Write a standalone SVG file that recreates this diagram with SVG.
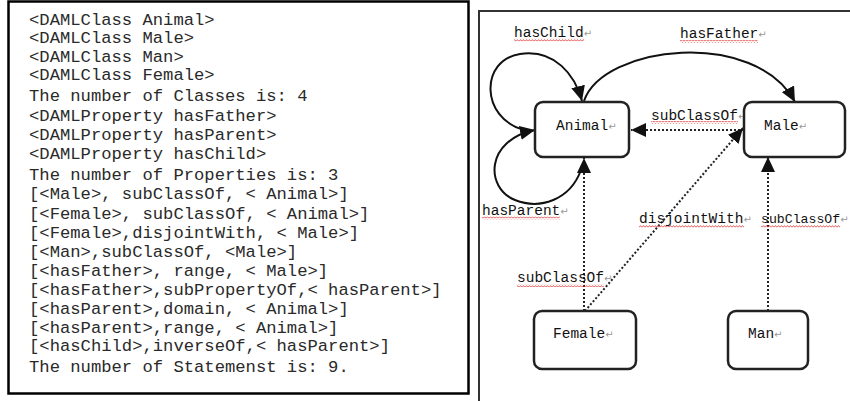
<svg xmlns="http://www.w3.org/2000/svg" width="850" height="401" viewBox="0 0 850 401">
<style>
.code{font-family:"Liberation Mono","DejaVu Sans Mono",monospace;font-size:17.2px;fill:#2a2a2a}
.lbl{font-family:"Liberation Mono","DejaVu Sans Mono",monospace;font-size:14.5px;fill:#111}
.ret{font-family:"DejaVu Sans",sans-serif;font-size:10px;fill:#999}
.node rect{fill:#fff;stroke:#222;stroke-width:2.5}
.solid{fill:none;stroke:#111;stroke-width:2}
.dot{fill:none;stroke:#222;stroke-width:2;stroke-dasharray:2 2}
.wave{fill:url(#wv)}
</style>
<defs>
<marker id="ah" markerUnits="userSpaceOnUse" markerWidth="15" markerHeight="14" refX="15" refY="7" orient="auto">
<path d="M0,0 L15,7 L0,14 z" fill="#111"/>
</marker>
<pattern id="wv" width="3" height="3" patternUnits="userSpaceOnUse">
<path d="M0,2.4 L1.5,0.6 L3,2.4" fill="none" stroke="#e03030" stroke-width="0.8"/>
</pattern>
</defs>
<rect x="8.5" y="1.5" width="460" height="392" fill="#fff" stroke="#000" stroke-width="2.5"/>
<g id="code">
<text class="code" x="29" y="24.5">&lt;DAMLClass Animal&gt;</text>
<text class="code" x="29" y="43">&lt;DAMLClass Male&gt;</text>
<text class="code" x="29" y="61.5">&lt;DAMLClass Man&gt;</text>
<text class="code" x="29" y="80">&lt;DAMLClass Female&gt;</text>
<text class="code" x="29" y="101">The number of Classes is: 4</text>
<text class="code" x="29" y="121">&lt;DAMLProperty hasFather&gt;</text>
<text class="code" x="29" y="140">&lt;DAMLProperty hasParent&gt;</text>
<text class="code" x="29" y="159">&lt;DAMLProperty hasChild&gt;</text>
<text class="code" x="29" y="180">The number of Properties is: 3</text>
<text class="code" x="29" y="199">[&lt;Male&gt;, subClassOf, &lt; Animal&gt;]</text>
<text class="code" x="29" y="219">[&lt;Female&gt;, subClassOf, &lt; Animal&gt;]</text>
<text class="code" x="29" y="238">[&lt;Female&gt;,disjointWith, &lt; Male&gt;]</text>
<text class="code" x="29" y="257">[&lt;Man&gt;,subClassOf, &lt;Male&gt;]</text>
<text class="code" x="29" y="276">[&lt;hasFather&gt;, range, &lt; Male&gt;]</text>
<text class="code" x="29" y="295">[&lt;hasFather&gt;,subPropertyOf,&lt; hasParent&gt;]</text>
<text class="code" x="29" y="314">[&lt;hasParent&gt;,domain, &lt; Animal&gt;]</text>
<text class="code" x="29" y="333">[&lt;hasParent&gt;,range, &lt; Animal&gt;]</text>
<text class="code" x="29" y="351">[&lt;hasChild&gt;,inverseOf,&lt; hasParent&gt;]</text>
<text class="code" x="29" y="372">The number of Statemenst is: 9.</text>
</g>
<path d="M479,401 L479,11 L850,11" fill="none" stroke="#333" stroke-width="2"/>
<g id="connectors">
<path class="solid" d="M524,130 C480,118 480,60 520,54 C555,49 575,75 582,101" marker-end="url(#ah)"/>
<path class="solid" d="M581,170 C570,200 540,210 515,200 C485,188 485,140 535,130" marker-end="url(#ah)"/>
<path class="solid" d="M584,101 C603,45 755,28 795,102" marker-end="url(#ah)"/>
<path class="dot" d="M744,130 L631,130" marker-end="url(#ah)"/>
<path class="dot" d="M585,311 L743,128" marker-end="url(#ah)"/>
<path class="dot" d="M584,311 L584,158" marker-end="url(#ah)"/>
<path class="dot" d="M768,311 L768,157" marker-end="url(#ah)"/>
</g>
<g id="edge-labels">
<rect class="wave" x="514" y="38.5" width="70" height="3"/>
<text class="lbl" x="514" y="36.5">hasChild<tspan class="ret">↵</tspan></text>
<rect class="wave" x="680" y="40" width="78" height="3"/>
<text class="lbl" x="680" y="38">hasFather<tspan class="ret">↵</tspan></text>
<rect class="wave" x="651" y="121" width="87" height="3"/>
<text class="lbl" x="651" y="119.5">subClassOf<tspan class="ret">↵</tspan></text>
<rect class="wave" x="482" y="216.5" width="78" height="3"/>
<text class="lbl" x="482" y="215">hasParent<tspan class="ret">↵</tspan></text>
<rect class="wave" x="639" y="225" width="105" height="3"/>
<text class="lbl" x="639" y="223">disjointWith<tspan class="ret">↵</tspan></text>
<rect class="wave" x="761" y="225" width="79" height="3"/>
<text class="lbl" x="761" y="223" style="font-size:13.2px">subClassOf<tspan class="ret">↵</tspan></text>
<rect class="wave" x="517" y="284" width="87" height="3"/>
<text class="lbl" x="517" y="282">subClassOf<tspan class="ret">↵</tspan></text>
</g>
<g id="node-animal" class="node">
<rect x="535" y="102" width="94" height="55" rx="8"/>
<text class="lbl" x="556" y="130">Animal<tspan class="ret">↵</tspan></text>
</g>
<g id="node-male" class="node">
<rect x="744" y="102" width="101" height="55" rx="8"/>
<text class="lbl" x="764" y="130">Male<tspan class="ret">↵</tspan></text>
</g>
<g id="node-female" class="node">
<rect x="534" y="311" width="102" height="58" rx="8"/>
<text class="lbl" x="553" y="338">Female<tspan class="ret">↵</tspan></text>
</g>
<g id="node-man" class="node">
<rect x="728" y="311" width="80" height="58" rx="8"/>
<text class="lbl" x="748" y="338">Man<tspan class="ret">↵</tspan></text>
</g>
</svg>
